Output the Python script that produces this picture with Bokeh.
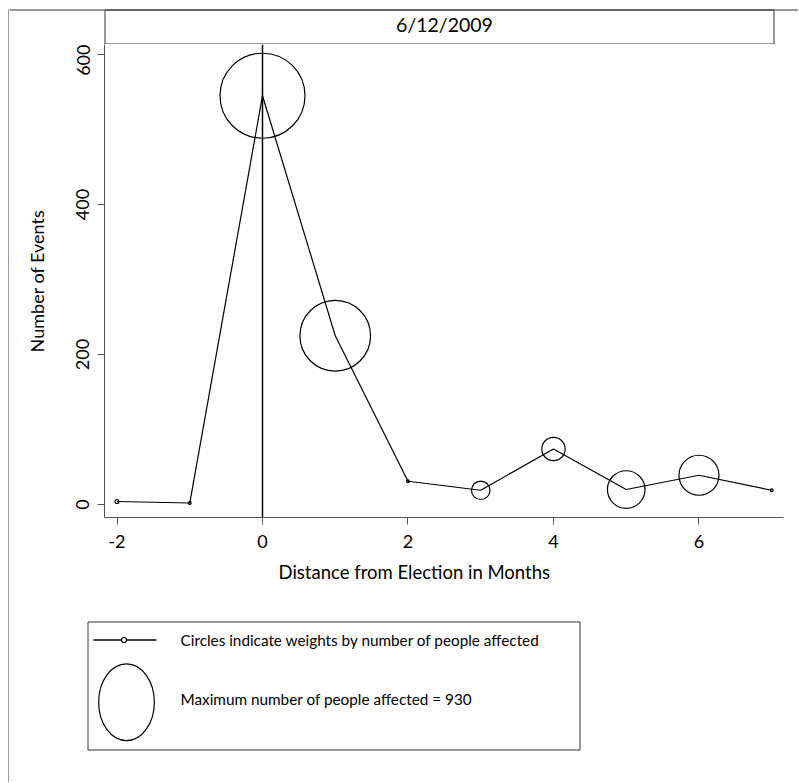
import numpy as np
from bokeh.plotting import figure
from bokeh.layouts import column, row
from bokeh.models import Range1d, FixedTicker, Span, Title
from bokeh.embed import file_html
from bokeh.resources import INLINE
from bokeh.core.properties import value

# ---------------- data ----------------
months = [-2, -1, 0, 1, 2, 3, 4, 5, 6, 7]
events = [4, 2, 545, 225, 31, 19, 74, 20, 39, 19]
people = [2, 1, 930, 642, 1, 44, 70, 182, 206, 1]
election_month = 0
x_ticks = [-2, 0, 2, 4, 6]
x_tick_labels = ["-2", "0", "2", "4", "6"]
y_ticks = [0, 200, 400, 600]
y_tick_labels = ["0", "200", "400", "600"]
title_text = "6/12/2009"
x_title = "Distance from Election in Months"
y_title = "Number of Events"
legend_line_text = "Circles indicate weights by number of people affected"
legend_max_text = "Maximum number of people affected = " + str(max(people))

# ---------------- style ----------------
FONT = "Lato"
AXIS_COLOR = "#555555"
BORDER_COLOR = "#333333"
RMAX = 42.5  # screen radius of the largest weight circle
radii = [RMAX * np.sqrt(w / max(people)) for w in people]

TOTAL_H = 782
LBW = 9          # left strip (margin + outer border line)
W = 789          # width of the main column
TH = 44          # title strip height
MH = 561         # main plot height
LH = TOTAL_H - TH - MH


def blank(fig):
    fig.axis.visible = False
    fig.xgrid.visible = False
    fig.ygrid.visible = False
    fig.outline_line_color = None
    fig.background_fill_color = "white"
    fig.border_fill_color = "white"


# ---------------- left strip with outer border ----------------
lb = figure(width=LBW, height=TOTAL_H, min_border=0, toolbar_location=None,
            output_backend="svg", x_range=Range1d(0, LBW),
            y_range=Range1d(TOTAL_H, 0), frame_align=False)
blank(lb)
lb.quad(left=[LBW - 1], right=[LBW], top=[9], bottom=[TOTAL_H],
        fill_color=BORDER_COLOR, line_color=None)

# ---------------- title strip ----------------
t = figure(width=W, height=TH, min_border=0, toolbar_location=None,
           output_backend="svg", x_range=Range1d(0, W), y_range=Range1d(TH, 0),
           frame_align=False)
blank(t)
t.segment(x0=[0], y0=[9.5], x1=[W], y1=[9.5], line_color=BORDER_COLOR, line_width=1)
t.quad(left=[95.5], right=[764.5], top=[9.5], bottom=[43.5],
       fill_color=None, line_color=BORDER_COLOR, line_width=1)
t.text(x=[435], y=[24], text=[title_text], text_font=value(FONT),
       text_font_size="19.5px", text_align="center", text_baseline="middle",
       text_color="black")

# ---------------- main plot ----------------
p = figure(width=W, height=MH, x_range=Range1d(-2.172, 7.162),
           y_range=Range1d(-17.3, 613.3), output_backend="svg",
           toolbar_location=None, min_border_left=95, min_border_right=15,
           min_border_top=0, min_border_bottom=88, frame_align=False)
p.xgrid.visible = False
p.ygrid.visible = False
p.outline_line_color = None
p.background_fill_color = "white"
p.border_fill_color = "white"

p.add_layout(Span(location=election_month, dimension="height",
                  line_color="black", line_width=1.5))
p.line(months, events, line_color="black", line_width=1.2)
p.circle(months, events, radius=radii, radius_units="screen",
         fill_color=None, line_color="black", line_width=1.2)

for ax in (p.xaxis[0], p.yaxis[0]):
    ax.axis_line_color = AXIS_COLOR
    ax.major_tick_line_color = AXIS_COLOR
    ax.minor_tick_line_color = None
    ax.major_tick_out = 7
    ax.major_tick_in = 0
    ax.major_label_text_font = FONT
    ax.major_label_text_font_size = "18px"
    ax.major_label_text_color = "black"

p.xaxis.ticker = FixedTicker(ticks=x_ticks)
p.xaxis.major_label_overrides = {k: v for k, v in zip(x_ticks, x_tick_labels)}
p.xaxis.major_label_standoff = 10

p.yaxis.ticker = FixedTicker(ticks=y_ticks)
p.yaxis.major_label_overrides = {k: v for k, v in zip(y_ticks, y_tick_labels)}
p.yaxis.major_label_orientation = "vertical"
p.yaxis.major_label_standoff = 8
p.yaxis.axis_label = y_title
p.yaxis.axis_label_text_font = FONT
p.yaxis.axis_label_text_font_size = "18px"
p.yaxis.axis_label_text_font_style = "normal"
p.yaxis.axis_label_text_color = "black"
p.yaxis.axis_label_standoff = 26

p.add_layout(Title(text=x_title, align="left", offset=174, text_font=FONT,
                   text_font_size="18.5px", text_font_style="normal",
                   text_color="black", standoff=16), "below")

# ---------------- legend ----------------
lg = figure(width=W, height=LH, min_border=0, toolbar_location=None,
            output_backend="svg", x_range=Range1d(0, W), y_range=Range1d(LH, 0),
            frame_align=False)
blank(lg)
lg.quad(left=[78.5], right=[570.5], top=[16.5], bottom=[144.5],
        fill_color=None, line_color=BORDER_COLOR, line_width=1)
lg.segment(x0=[84], y0=[34.5], x1=[147], y1=[34.5], line_color="black", line_width=1.5)
lg.circle(x=[114.5], y=[34.5], radius=2.5, radius_units="screen",
          fill_color="white", line_color="black", line_width=1.2)
lg.text(x=[171], y=[34], text=[legend_line_text], text_font=value(FONT),
        text_font_size="15.3px", text_align="left", text_baseline="middle",
        text_color="black")
lg.ellipse(x=[117], y=[96.7], width=[55.7], height=[76.7],
           fill_color=None, line_color="black", line_width=1.2)
lg.text(x=[171], y=[93], text=[legend_max_text], text_font=value(FONT),
        text_font_size="15.3px", text_align="left", text_baseline="middle",
        text_color="black")

layout = row(lb, column(t, p, lg))
open("out.html", "w").write(file_html(layout, INLINE))
